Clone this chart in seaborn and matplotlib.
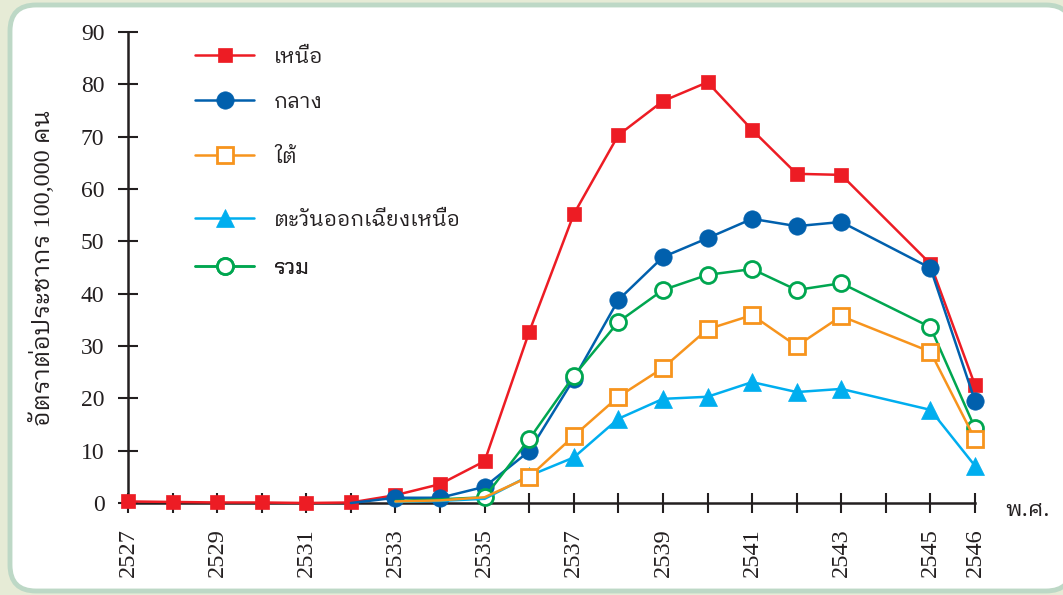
import matplotlib
matplotlib.use("Agg")
import matplotlib.pyplot as plt
from matplotlib import font_manager as fm
from matplotlib.ft2font import FT2Font
from matplotlib.patches import FancyBboxPatch
from matplotlib.transforms import IdentityTransform
from matplotlib.lines import Line2D
import seaborn as sns
import pandas as pd

# ---------------- data ----------------
years_red = [2527, 2528, 2529, 2530, 2531, 2532, 2533, 2534, 2535, 2536, 2537,
             2538, 2539, 2540, 2541, 2542, 2543, 2545, 2546]
north = [0.3, 0.2, 0.1, 0.1, 0.0, 0.1, 1.5, 3.6, 8.0, 32.7, 55.2,
         70.3, 76.8, 80.4, 71.3, 62.9, 62.7, 45.7, 22.5]

years_blue = [2532, 2533, 2534, 2535, 2536, 2537, 2538, 2539, 2540, 2541, 2542, 2543, 2545, 2546]
central = [0.0, 1.0, 1.0, 3.1, 9.9, 23.7, 38.8, 47.0, 50.6, 54.3, 52.9, 53.7, 44.9, 19.5]

years_rest = [2533, 2534, 2535, 2536, 2537, 2538, 2539, 2540, 2541, 2542, 2543, 2545, 2546]
south = [0.3, 0.5, 1.1, 5.0, 12.8, 20.3, 25.8, 33.2, 35.9, 30.0, 35.7, 28.9, 12.2]
northeast = [0.2, 0.4, 0.8, 5.2, 8.7, 16.1, 19.9, 20.3, 23.1, 21.2, 21.8, 17.8, 7.1]
total = [0.4, 0.7, 1.1, 12.2, 24.3, 34.6, 40.7, 43.6, 44.7, 40.7, 42.0, 33.6, 14.3]

labels = ["เหนือ", "กลาง", "ใต้", "ตะวันออกเฉียงเหนือ", "รวม"]
x_ticklabels = [2527, 2529, 2531, 2533, 2535, 2537, 2539, 2541, 2543, 2545, 2546]
y_ticks = [0, 10, 20, 30, 40, 50, 60, 70, 80, 90]
y_label = "อัตราต่อประชากร 100,000 คน"
x_unit = "พ.ศ."

# ---------------- fonts ----------------
def find_thai_font():
    cands = []
    files = set(fm.findSystemFonts()) | {f.fname for f in fm.fontManager.ttflist}
    for f in files:
        try:
            ft = FT2Font(f)
            cm = ft.get_charmap()
            if 0x0E01 in cm and 0x0E2D in cm:
                cands.append((f, ft.family_name, ft.style_name))
        except Exception:
            pass
    if not cands:
        return None
    def score(c):
        f, fam, sty = c
        s = 0
        if "Thai" in fam:
            s -= 10
        if sty == "Regular":
            s -= 5
        if "Looped" in fam:
            s -= 3
        if "UI" in fam:
            s += 2
        return s
    cands.sort(key=score)
    f, fam, sty = cands[0]
    try:
        fm.fontManager.addfont(f)
    except Exception:
        pass
    return fam

sns.set_theme(style="white")
thai_fam = find_thai_font()
serif = "Liberation Serif"
thai_list = ([thai_fam] if thai_fam else []) + ["DejaVu Sans"]
plt.rcParams["font.family"] = [serif] + thai_list

# ---------------- figure ----------------
fig = plt.figure(figsize=(10.63, 5.95), dpi=100)
fig.patch.set_facecolor("#e6ebd6")
panel = FancyBboxPatch((10, 4), 1062, 586, boxstyle="round,pad=0,rounding_size=26",
                       transform=IdentityTransform(), facecolor="white",
                       edgecolor="#bdd8c6", linewidth=3.5, zorder=-5)
fig.patches.append(panel)

ax = fig.add_axes([128 / 1063, 1 - 503 / 595, (975 - 128) / 1063, 471 / 595])
ax.set_zorder(2)
ax.set_facecolor("none")

# (x, y, colour, marker, face, size, zorder, first marked index)
styles = [
    (years_red, north, "#ed1c24", "s", "#ed1c24", 10.5, 3, 0),
    (years_blue, central, "#0160ad", "o", "#0160ad", 12.5, 4, 1),
    (years_rest, south, "#f7941d", "s", "white", 11, 7, 3),
    (years_rest, northeast, "#00aeef", "^", "#00aeef", 13, 6, 3),
    (years_rest, total, "#00a650", "o", "white", 11.5, 5, 2),
]
handles = []
for (xs, ys, col, mk, mfc, ms, z, m0), lab in zip(styles, labels):
    df = pd.DataFrame({"x": xs, "y": ys})
    mew = 2 if mfc == "white" else 0.5
    sns.lineplot(data=df, x="x", y="y", ax=ax, color=col, marker=mk,
                 markersize=ms, markerfacecolor=mfc, markeredgecolor=col,
                 markeredgewidth=mew, linewidth=1.8, markevery=list(range(m0, len(xs))),
                 zorder=z, clip_on=False, legend=False)
    handles.append(Line2D([], [], color=col, marker=mk, markersize=ms,
                          markerfacecolor=mfc, markeredgecolor=col,
                          markeredgewidth=mew, linewidth=1.8))

ax.set_xlim(2527, 2546)
ax.set_ylim(0, 90)
ax.set_xticks(list(range(2527, 2547)))
ax.set_xticklabels([str(y) if y in x_ticklabels else "" for y in range(2527, 2547)],
                   rotation=90, fontsize=17.5, family=serif)
ax.set_yticks(y_ticks)
ax.set_yticklabels([str(v) for v in y_ticks], fontsize=17, family=serif)
ax.set_xlabel("")
ax.set_ylabel("")
for s in ["top", "right"]:
    ax.spines[s].set_visible(False)
for s in ["left", "bottom"]:
    ax.spines[s].set_color("#231f20")
    ax.spines[s].set_linewidth(1.8)
ax.tick_params(axis="both", direction="inout", length=14, width=1.5,
               color="#231f20", labelcolor="#231f20", bottom=True, left=True)
ax.tick_params(axis="y", pad=10)
ax.tick_params(axis="x", pad=11)
ax.grid(False)

fig.text(42 / 1063, 1 - 268 / 595, y_label, rotation=90, ha="center", va="center",
         fontsize=17.5, family=[serif] + thai_list, color="#231f20")
fig.text(1005 / 1063, 1 - 510 / 595, x_unit, ha="left", va="center",
         fontsize=16, family=thai_list, color="#231f20")

# legend: one entry per row at the reference positions
rows_y = [57, 102, 157, 220, 268]
for h, lab, yy in zip(handles, labels, rows_y):
    lg = ax.legend([h], [lab], loc="center left",
                   bbox_to_anchor=(195 / 1063, 1 - yy / 595),
                   bbox_transform=fig.transFigure, frameon=False,
                   handlelength=2.85, handletextpad=0.95, borderpad=0, borderaxespad=0,
                   prop={"family": thai_list, "size": 15})
    for t in lg.get_texts():
        t.set_color("#231f20")
    ax.add_artist(lg)

fig.savefig("out.png", dpi=100, facecolor=fig.get_facecolor())
